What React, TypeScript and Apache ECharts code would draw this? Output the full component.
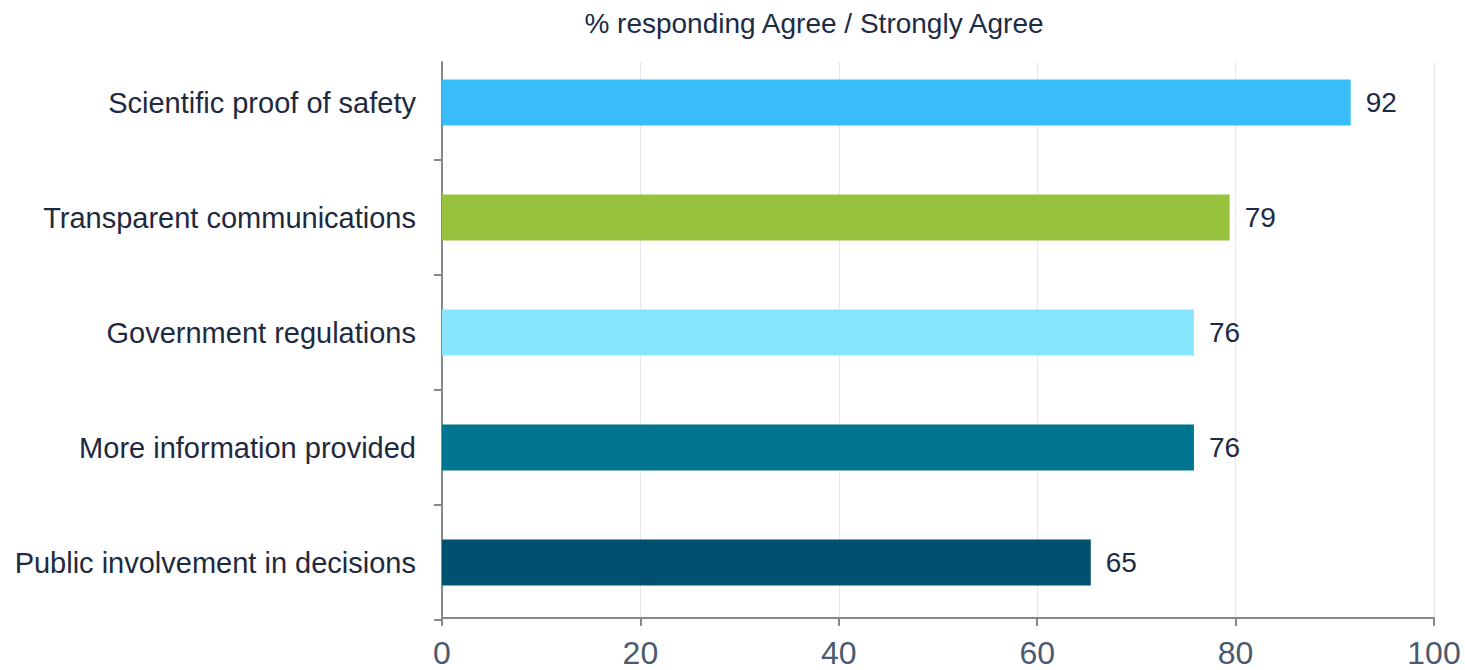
import React, { useEffect, useRef } from "react";
import * as echarts from "echarts";

const title = "% responding Agree / Strongly Agree";
const categories = [
  "Scientific proof of safety",
  "Transparent communications",
  "Government regulations",
  "More information provided",
  "Public involvement in decisions",
];
const values = [91.6, 79.4, 75.8, 75.8, 65.4];
const barColors = ["#38BDF8", "#96C23D", "#88E6FC", "#00758F", "#01506F"];
const xTicks = [0, 20, 40, 60, 80, 100];

export default function App() {
  const ref = useRef<HTMLDivElement>(null);
  useEffect(() => {
    document.body.style.margin = "0";
    const chart = echarts.init(ref.current!, null, { renderer: "svg" });
    const font = "'Liberation Sans', Arial, Helvetica, sans-serif";
    chart.setOption({
      animation: false,
      textStyle: { fontFamily: font },
      graphic: [
        {
          type: "text",
          x: 814,
          y: 23,
          style: {
            text: title,
            fontSize: 28,
            fontFamily: font,
            fill: "#1d2b45",
            textAlign: "center",
            textVerticalAlign: "middle",
          },
        },
      ],
      grid: [
        { left: 442, right: 31, top: 62, bottom: 52 },
        { left: 442, right: 31, top: 45, bottom: 50 },
      ],
      xAxis: [
        {
          gridIndex: 0,
          type: "value",
          min: xTicks[0],
          max: xTicks[xTicks.length - 1],
          interval: 20,
          axisLine: { show: true, lineStyle: { color: "#888888", width: 2 } },
          axisTick: { show: true, length: 8, lineStyle: { color: "#888888", width: 2 } },
          axisLabel: {
            fontSize: 32,
            lineHeight: 26,
            color: "#4b5a70",
            margin: 22,
            fontFamily: font,
          },
          splitLine: { show: true, lineStyle: { color: "#e3e8f0", width: 1 } },
        },
        {
          gridIndex: 1,
          type: "value",
          min: xTicks[0],
          max: xTicks[xTicks.length - 1],
          show: false,
          splitLine: { show: false },
        },
      ],
      yAxis: [
        {
          gridIndex: 0,
          type: "value",
          min: 0,
          max: 1,
          axisLine: { show: true, lineStyle: { color: "#888888", width: 2 } },
          axisTick: { show: false },
          axisLabel: { show: false },
          splitLine: { show: false },
        },
        {
          gridIndex: 1,
          type: "category",
          inverse: true,
          data: categories,
          axisLine: { show: false },
          axisTick: {
            show: true,
            length: 8,
            interval: (index: number) => index !== 0,
            lineStyle: { color: "#888888", width: 2 },
          },
          axisLabel: { fontSize: 29, color: "#1e2a40", margin: 26, interval: 0, fontFamily: font },
          splitLine: { show: false },
        },
      ],
      series: [
        {
          type: "bar",
          xAxisIndex: 1,
          yAxisIndex: 1,
          barWidth: 46,
          data: values.map((v, i) => ({ value: v, itemStyle: { color: barColors[i] } })),
          label: {
            show: true,
            position: "right",
            distance: 15,
            fontSize: 28,
            color: "#1d2b45",
            fontFamily: font,
            formatter: (p: any) => String(Math.round(p.value)),
          },
        },
      ],
    });
    return () => chart.dispose();
  }, []);
  return <div ref={ref} style={{ width: 1465, height: 670 }} />;
}
